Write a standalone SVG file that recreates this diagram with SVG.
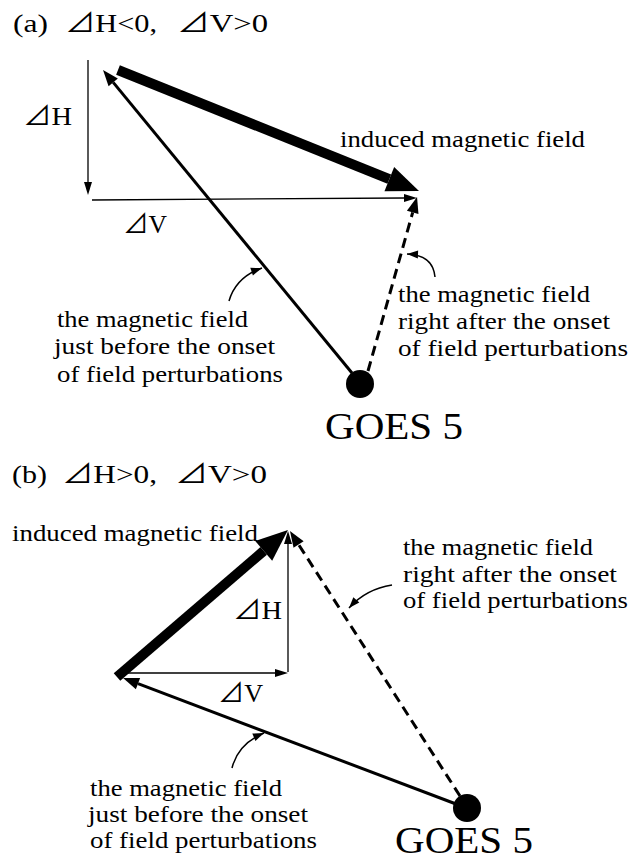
<svg xmlns="http://www.w3.org/2000/svg" width="629" height="862" viewBox="0 0 629 862">
<defs>
<style>
text{font-family:"Liberation Serif","Noto Sans CJK JP",serif;fill:#000}
.lbl{font-size:23px}
.sym{font-size:26px}
.goes{font-size:38px}
.thin{stroke:#000;stroke-width:1.3;fill:none}
.mid{stroke:#000;stroke-width:3;fill:none}
.dash{stroke:#000;stroke-width:3;fill:none;stroke-dasharray:10 6}
.thick{stroke:#000;stroke-width:10;fill:none}
.curve{stroke:#000;stroke-width:1.5;fill:none}
</style>
<marker id="hThin" markerUnits="userSpaceOnUse" orient="auto" refX="0" refY="0" markerWidth="14" markerHeight="10" overflow="visible"><path d="M0,-4 L13,0 L0,4 Z" fill="#000"/></marker>
<marker id="hMid" markerUnits="userSpaceOnUse" orient="auto" refX="0" refY="0" markerWidth="16" markerHeight="12" overflow="visible"><path d="M0,-6 L16,0 L0,6 Z" fill="#000"/></marker>
<marker id="hThick" markerUnits="userSpaceOnUse" orient="auto" refX="0" refY="0" markerWidth="32" markerHeight="26" overflow="visible"><path d="M0,-13 L32,0 L0,13 Z" fill="#000"/></marker>
<marker id="hSmall" markerUnits="userSpaceOnUse" orient="auto" refX="11" refY="0" markerWidth="11" markerHeight="8" overflow="visible"><path d="M0,-4 L11,0 L0,4 Z" fill="#000"/></marker>
</defs>
<rect x="0" y="0" width="629" height="862" fill="#fff"/>

<g id="title-a">
<text class="sym" x="13" y="32" textLength="35" lengthAdjust="spacingAndGlyphs">(a)</text>
<text class="sym" x="65" y="32" textLength="92" lengthAdjust="spacingAndGlyphs">⊿H&lt;0,</text>
<text class="sym" x="177" y="32" textLength="91" lengthAdjust="spacingAndGlyphs">⊿V&gt;0</text>
</g>

<g id="connectors-a">
<line class="thin" x1="88" y1="60" x2="88" y2="182" marker-end="url(#hThin)"/>
<line class="thin" x1="92" y1="200" x2="404" y2="198" marker-end="url(#hThin)"/>
<line class="thick" x1="118" y1="70" x2="389.3" y2="179.1" marker-end="url(#hThick)"/>
<line class="mid" x1="352" y1="373" x2="113.2" y2="82.4" marker-end="url(#hMid)"/>
<line class="dash" x1="368" y1="371" x2="412.7" y2="212.4" marker-end="url(#hMid)"/>
<path class="curve" d="M229,301 Q236,277 262,268" marker-end="url(#hSmall)"/>
<path class="curve" d="M435,277 Q433,255 407,254" marker-end="url(#hSmall)"/>
</g>

<g id="labels-a">
<text class="sym" x="23" y="125" textLength="49" lengthAdjust="spacingAndGlyphs">⊿H</text>
<text class="sym" x="123" y="233" textLength="44" lengthAdjust="spacingAndGlyphs">⊿V</text>
<text class="lbl" x="340" y="147" textLength="245" lengthAdjust="spacingAndGlyphs">induced magnetic field</text>
</g>

<g id="label-after-a">
<text class="lbl" x="398" y="302" textLength="192" lengthAdjust="spacingAndGlyphs">the magnetic field</text>
<text class="lbl" x="398" y="329" textLength="212" lengthAdjust="spacingAndGlyphs">right after the onset</text>
<text class="lbl" x="398" y="356" textLength="230" lengthAdjust="spacingAndGlyphs">of field perturbations</text>
</g>

<g id="label-before-a">
<text class="lbl" x="57" y="327" textLength="191" lengthAdjust="spacingAndGlyphs">the magnetic field</text>
<text class="lbl" x="54" y="354" textLength="221" lengthAdjust="spacingAndGlyphs">just before the onset</text>
<text class="lbl" x="57" y="382" textLength="226" lengthAdjust="spacingAndGlyphs">of field perturbations</text>
</g>

<g id="goes-a">
<circle cx="360" cy="384" r="14" fill="#000"/>
<text class="goes" x="325" y="439" textLength="138" lengthAdjust="spacingAndGlyphs">GOES 5</text>
</g>

<g id="title-b">
<text class="sym" x="12" y="483" textLength="35" lengthAdjust="spacingAndGlyphs">(b)</text>
<text class="sym" x="62" y="483" textLength="95" lengthAdjust="spacingAndGlyphs">⊿H&gt;0,</text>
<text class="sym" x="175" y="483" textLength="92" lengthAdjust="spacingAndGlyphs">⊿V&gt;0</text>
</g>

<g id="connectors-b">
<line class="thin" x1="288" y1="672" x2="288" y2="544" marker-end="url(#hThin)"/>
<line class="thin" x1="122" y1="673" x2="275" y2="673" marker-end="url(#hThin)"/>
<line class="thick" x1="117" y1="677" x2="263.7" y2="550.9" marker-end="url(#hThick)"/>
<line class="mid" x1="456" y1="804" x2="138" y2="683.7" marker-end="url(#hMid)"/>
<line class="dash" x1="460" y1="796" x2="298.6" y2="544.5" marker-end="url(#hMid)"/>
<path class="curve" d="M232,768 Q238,744 264,733" marker-end="url(#hSmall)"/>
<path class="curve" d="M392,585 Q366,589 349,608" marker-end="url(#hSmall)"/>
</g>

<g id="labels-b">
<text class="lbl" x="12" y="541" textLength="246" lengthAdjust="spacingAndGlyphs">induced magnetic field</text>
<text class="sym" x="233" y="619" textLength="49" lengthAdjust="spacingAndGlyphs">⊿H</text>
<text class="sym" x="218" y="702" textLength="45" lengthAdjust="spacingAndGlyphs">⊿V</text>
</g>

<g id="label-after-b">
<text class="lbl" x="403" y="555" textLength="190" lengthAdjust="spacingAndGlyphs">the magnetic field</text>
<text class="lbl" x="403" y="582" textLength="214" lengthAdjust="spacingAndGlyphs">right after the onset</text>
<text class="lbl" x="403" y="608" textLength="225" lengthAdjust="spacingAndGlyphs">of field perturbations</text>
</g>

<g id="label-before-b">
<text class="lbl" x="90" y="796" textLength="192" lengthAdjust="spacingAndGlyphs">the magnetic field</text>
<text class="lbl" x="88" y="822" textLength="220" lengthAdjust="spacingAndGlyphs">just before the onset</text>
<text class="lbl" x="90" y="848" textLength="227" lengthAdjust="spacingAndGlyphs">of field perturbations</text>
</g>

<g id="goes-b">
<circle cx="467" cy="808" r="14" fill="#000"/>
<text class="goes" x="395" y="853" textLength="138" lengthAdjust="spacingAndGlyphs">GOES 5</text>
</g>
</svg>
